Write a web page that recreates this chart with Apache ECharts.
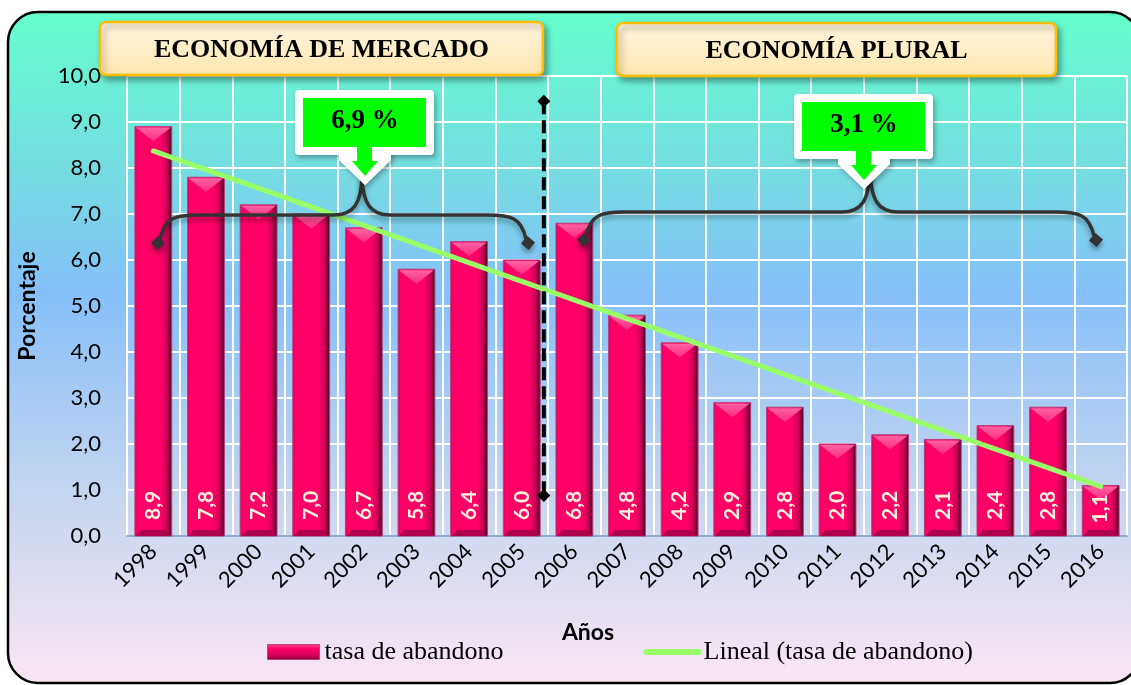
<!DOCTYPE html>
<html>
<head>
<meta charset="utf-8">
<script src="https://cdn.jsdelivr.net/npm/echarts@6.0.0/dist/echarts.min.js"></script>
<style>
  html, body { margin: 0; padding: 0; background: #fff; }
  #chart { width: 1131px; height: 685px; }
</style>
</head>
<body>
<div id="chart"></div>
<script>
// Data
const years = ["1998", "1999", "2000", "2001", "2002", "2003", "2004", "2005", "2006", "2007",
  "2008", "2009", "2010", "2011", "2012", "2013", "2014", "2015", "2016"];
const tasaAbandono = [8.9, 7.8, 7.2, 7.0, 6.7, 5.8, 6.4, 6.0, 6.8, 4.8,
  4.2, 2.9, 2.8, 2.0, 2.2, 2.1, 2.4, 2.8, 1.1];
// trend line ends, as drawn (first and last year)
const tendenciaExtremos = [8.37, 1.08];
// dashed divider between 2005 and 2006 (category position, top and bottom values)
const divisorPos = 7.42;
const divisorValores = [9.45, 0.88];
const yTicks = [0, 1, 2, 3, 4, 5, 6, 7, 8, 9, 10];

const barName = "tasa de abandono";
const trendName = "Lineal (tasa de abandono)";

const sansFont = "Lato";
const serifFont = "Liberation Serif";

function fmt(v) { return v.toFixed(1).replace(".", ","); }

const bodyGrad = new echarts.graphic.LinearGradient(0, 0, 1, 0, [
  { offset: 0, color: "#c8005a" },
  { offset: 0.07, color: "#ff0066" },
  { offset: 0.7, color: "#ff0066" },
  { offset: 0.86, color: "#cc0058" },
  { offset: 1, color: "#3c0018" }
]);
const topGrad = new echarts.graphic.LinearGradient(0, 0, 0, 1, [
  { offset: 0, color: "#ff62a2" },
  { offset: 1, color: "#ff2a80" }
]);

function renderBar(params, api) {
  const i = api.value(0), v = api.value(1);
  const top = api.coord([i, v]);
  const base = api.coord([i, 0]);
  const w = api.size([1, 0])[0] * 0.7;
  const x0 = top[0] - w / 2, x1 = top[0] + w / 2;
  const y0 = top[1], y1 = base[1];
  const h = y1 - y0;
  const vb = Math.min(w * 0.4, h * 0.4);
  const bb = Math.min(6, h * 0.12);
  const off = Math.min(16, Math.max(5, h - 38));
  return {
    type: "group",
    children: [
      { type: "rect", shape: { x: x0, y: y0, width: w, height: h },
        style: { fill: bodyGrad, stroke: "#b8407e", lineWidth: 1 } },
      { type: "polygon", shape: { points: [[x0 + 1, y0 + 1], [x1 - 1, y0 + 1], [top[0], y0 + vb]] },
        style: { fill: topGrad } },
      { type: "polygon", shape: { points: [[x0 + 1, y1], [x1 - 1, y1], [x1 - bb, y1 - bb], [x0 + bb, y1 - bb]] },
        style: { fill: "#b0004c" } },
      { type: "text", x: top[0], y: y1 - off, rotation: Math.PI / 2,
        style: { text: fmt(v), fill: "#fff2dc", font: "bold 21px " + sansFont,
          align: "left", verticalAlign: "middle" } }
    ]
  };
}

// ---- annotations (pixel layout) ----
// give every child the same z and a rising z2 so the drawing order holds
function layer(el, z) {
  el.z = z;
  if (el.children) el.children.forEach((c, k) => { c.z = z; c.z2 = k; layer(c, z); });
  return el;
}

function titleBox(x, y, w, h, text) {
  return layer({
    type: "group",
    children: [
      { type: "rect", shape: { x: x, y: y, width: w, height: h, r: 6 },
        style: {
          fill: new echarts.graphic.LinearGradient(0, 0, 0, 1, [
            { offset: 0, color: "#fff5e0" }, { offset: 1, color: "#ffe6ae" }]),
          stroke: "#ffbf00", lineWidth: 2.5,
          shadowBlur: 6, shadowOffsetX: 3, shadowOffsetY: 4, shadowColor: "rgba(0,0,0,0.35)"
        } },
      { type: "text", x: x + w / 2, y: y + h / 2 + 2,
        style: { text: text, font: "bold 26px " + serifFont, fill: "#000",
          align: "center", verticalAlign: "middle" } }
    ]
  }, 120);
}

function callout(cx, top, text) {
  const bl = cx - 69, bw = 139, bh = 65, bb = top + bh;
  const arrowOuter = [[cx - 25, bb - 8], [cx + 27, bb - 8], [cx + 27, bb + 5], [cx + 1, bb + 30], [cx - 25, bb + 5]];
  const shadow = { shadowBlur: 5, shadowOffsetX: 2, shadowOffsetY: 3, shadowColor: "rgba(0,0,0,0.3)" };
  return layer({
    type: "group",
    children: [
      { type: "polygon", shape: { points: arrowOuter }, style: Object.assign({ fill: "#fff" }, shadow) },
      { type: "rect", shape: { x: bl, y: top, width: bw, height: bh, r: 4 }, style: Object.assign({ fill: "#fff" }, shadow) },
      { type: "polygon", shape: { points: arrowOuter }, style: { fill: "#fff" } },
      { type: "rect", shape: { x: bl + 8, y: top + 8, width: bw - 16, height: bh - 16 }, style: { fill: "#00ff00" } },
      { type: "polygon", shape: { points: [[cx - 7, bb - 9], [cx + 8, bb - 9], [cx + 8, bb + 6], [cx + 14, bb + 6], [cx + 1, bb + 21], [cx - 12, bb + 6], [cx - 7, bb + 6]] },
        style: { fill: "#00ff00" } },
      { type: "text", x: cx + 1, y: top + bh / 2 - 1,
        style: { text: text, font: "bold 27px " + serifFont, fill: "#000",
          align: "center", verticalAlign: "middle" } }
    ]
  }, 115);
}

function brace(xl, xr, xm, yBar, yEnd, yPeak) {
  const st = { stroke: "#333333", lineWidth: 3.5, fill: null,
    shadowBlur: 5, shadowOffsetY: 4, shadowColor: "rgba(0,0,0,0.35)" };
  const sq = { fill: "#333333", shadowBlur: 5, shadowOffsetY: 4, shadowColor: "rgba(0,0,0,0.35)" };
  return layer({
    type: "group",
    children: [
      { type: "bezierCurve", shape: { x1: xl + 2, y1: yEnd - 4, cpx1: xl + 7, cpy1: yBar + 2, cpx2: xl + 18, cpy2: yBar, x2: xl + 40, y2: yBar }, style: st },
      { type: "line", shape: { x1: xl + 40, y1: yBar, x2: xm - 28, y2: yBar }, style: st },
      { type: "bezierCurve", shape: { x1: xm - 28, y1: yBar, cpx1: xm - 8, cpy1: yBar, cpx2: xm - 1, cpy2: yBar - 12, x2: xm, y2: yPeak }, style: st },
      { type: "bezierCurve", shape: { x1: xm, y1: yPeak, cpx1: xm + 1, cpy1: yBar - 12, cpx2: xm + 8, cpy2: yBar, x2: xm + 28, y2: yBar }, style: st },
      { type: "line", shape: { x1: xm + 28, y1: yBar, x2: xr - 40, y2: yBar }, style: st },
      { type: "bezierCurve", shape: { x1: xr - 40, y1: yBar, cpx1: xr - 18, cpy1: yBar, cpx2: xr - 7, cpy2: yBar + 2, x2: xr - 2, y2: yEnd - 4 }, style: st },
      { type: "rect", x: xl, y: yEnd, rotation: 0.7, shape: { x: -5, y: -5, width: 10, height: 10 }, style: sq },
      { type: "rect", x: xr, y: yEnd, rotation: -0.7, shape: { x: -5, y: -5, width: 10, height: 10 }, style: sq }
    ]
  }, 110);
}

const chart = echarts.init(document.getElementById("chart"), null, { renderer: "canvas" });

const option = {
  animation: false,
  backgroundColor: "#ffffff",
  textStyle: { fontFamily: sansFont },
  grid: { left: 127, right: 4, top: 76, bottom: 149, containLabel: false },
  legend: {
    left: 267, top: 639, padding: 0,
    itemWidth: 52, itemHeight: 15, itemGap: 140,
    textStyle: { fontFamily: serifFont, fontSize: 26, color: "#000" },
    data: [
      { name: barName, icon: "rect",
        itemStyle: { color: new echarts.graphic.LinearGradient(0, 0, 0, 1, [
          { offset: 0, color: "#ff4a90" }, { offset: 0.3, color: "#ff0066" },
          { offset: 0.75, color: "#d00058" }, { offset: 1, color: "#800030" }]),
          borderColor: "#b8407e", borderWidth: 1 } },
      { name: trendName, itemStyle: { opacity: 0 },
        lineStyle: { color: "#99ff66", width: 6, cap: "round" } }
    ]
  },
  xAxis: [
    {
      type: "category", data: years, boundaryGap: true,
      axisLine: { show: true, lineStyle: { color: "#6f90c4", width: 1.5 } },
      axisTick: { show: false },
      axisLabel: { rotate: 45, fontSize: 22, color: "#000", margin: 12, fontFamily: sansFont },
      splitLine: { show: true, lineStyle: { color: "#ffffff", width: 2 } }
    },
    { type: "value", min: -0.5, max: 18.5, show: false, position: "top" }
  ],
  yAxis: {
    type: "value", min: yTicks[0], max: yTicks[yTicks.length - 1], interval: 1,
    name: "Porcentaje", nameLocation: "middle", nameGap: 88, nameRotate: 90,
    nameTextStyle: { fontSize: 23, fontWeight: "bold", color: "#000", fontFamily: sansFont },
    axisLine: { show: false }, axisTick: { show: false },
    axisLabel: { fontSize: 22, color: "#000", margin: 26, formatter: fmt, fontFamily: sansFont },
    splitLine: { show: true, lineStyle: { color: "#ffffff", width: 2 } }
  },
  series: [
    {
      name: barName, type: "custom", xAxisIndex: 0, yAxisIndex: 0,
      itemStyle: { color: "#ff0066" },
      renderItem: renderBar,
      encode: { x: 0, y: 1 },
      data: tasaAbandono.map((v, i) => [i, v]),
      z: 3
    },
    {
      name: trendName, type: "line", xAxisIndex: 1, yAxisIndex: 0,
      data: [[0, tendenciaExtremos[0]], [years.length - 1, tendenciaExtremos[1]]],
      symbol: "none",
      lineStyle: { color: "#99ff66", width: 5, cap: "round" },
      itemStyle: { color: "#99ff66" },
      z: 5
    },
    {
      name: "divisor", type: "line", xAxisIndex: 1, yAxisIndex: 0,
      data: [[divisorPos, divisorValores[0]], [divisorPos, divisorValores[1]]],
      symbol: "diamond", symbolSize: 13,
      itemStyle: { color: "#000" },
      lineStyle: { color: "#000", width: 4, type: [13, 6] },
      z: 6
    }
  ],
  graphic: [
    {
      type: "rect", z: -100, silent: true,
      shape: { x: 8, y: 12, width: 1132, height: 671, r: 30 },
      style: {
        fill: new echarts.graphic.LinearGradient(0, 0, 0, 1, [
          { offset: 0, color: "#64ffcc" },
          { offset: 0.2, color: "#72e2de" },
          { offset: 0.42, color: "#86c0fa" },
          { offset: 0.76, color: "#cdd8ee" },
          { offset: 1, color: "#fbe6f5" }
        ]),
        stroke: "#000", lineWidth: 2.5
      }
    },
    titleBox(100, 22, 443, 53, "ECONOMÍA DE MERCADO"),
    titleBox(617, 23, 439, 53, "ECONOMÍA PLURAL"),
    brace(158, 528, 362, 215, 243, 177),
    brace(584, 1096, 870, 212, 240, 170),
    callout(364, 90, "6,9 %"),
    callout(863, 94, "3,1 %"),
    { type: "text", x: 588, y: 633, z: 100,
      style: { text: "Años", font: "bold 23px " + sansFont, fill: "#000", align: "center", verticalAlign: "middle" } }
  ]
};

chart.setOption(option);
</script>
</body>
</html>
